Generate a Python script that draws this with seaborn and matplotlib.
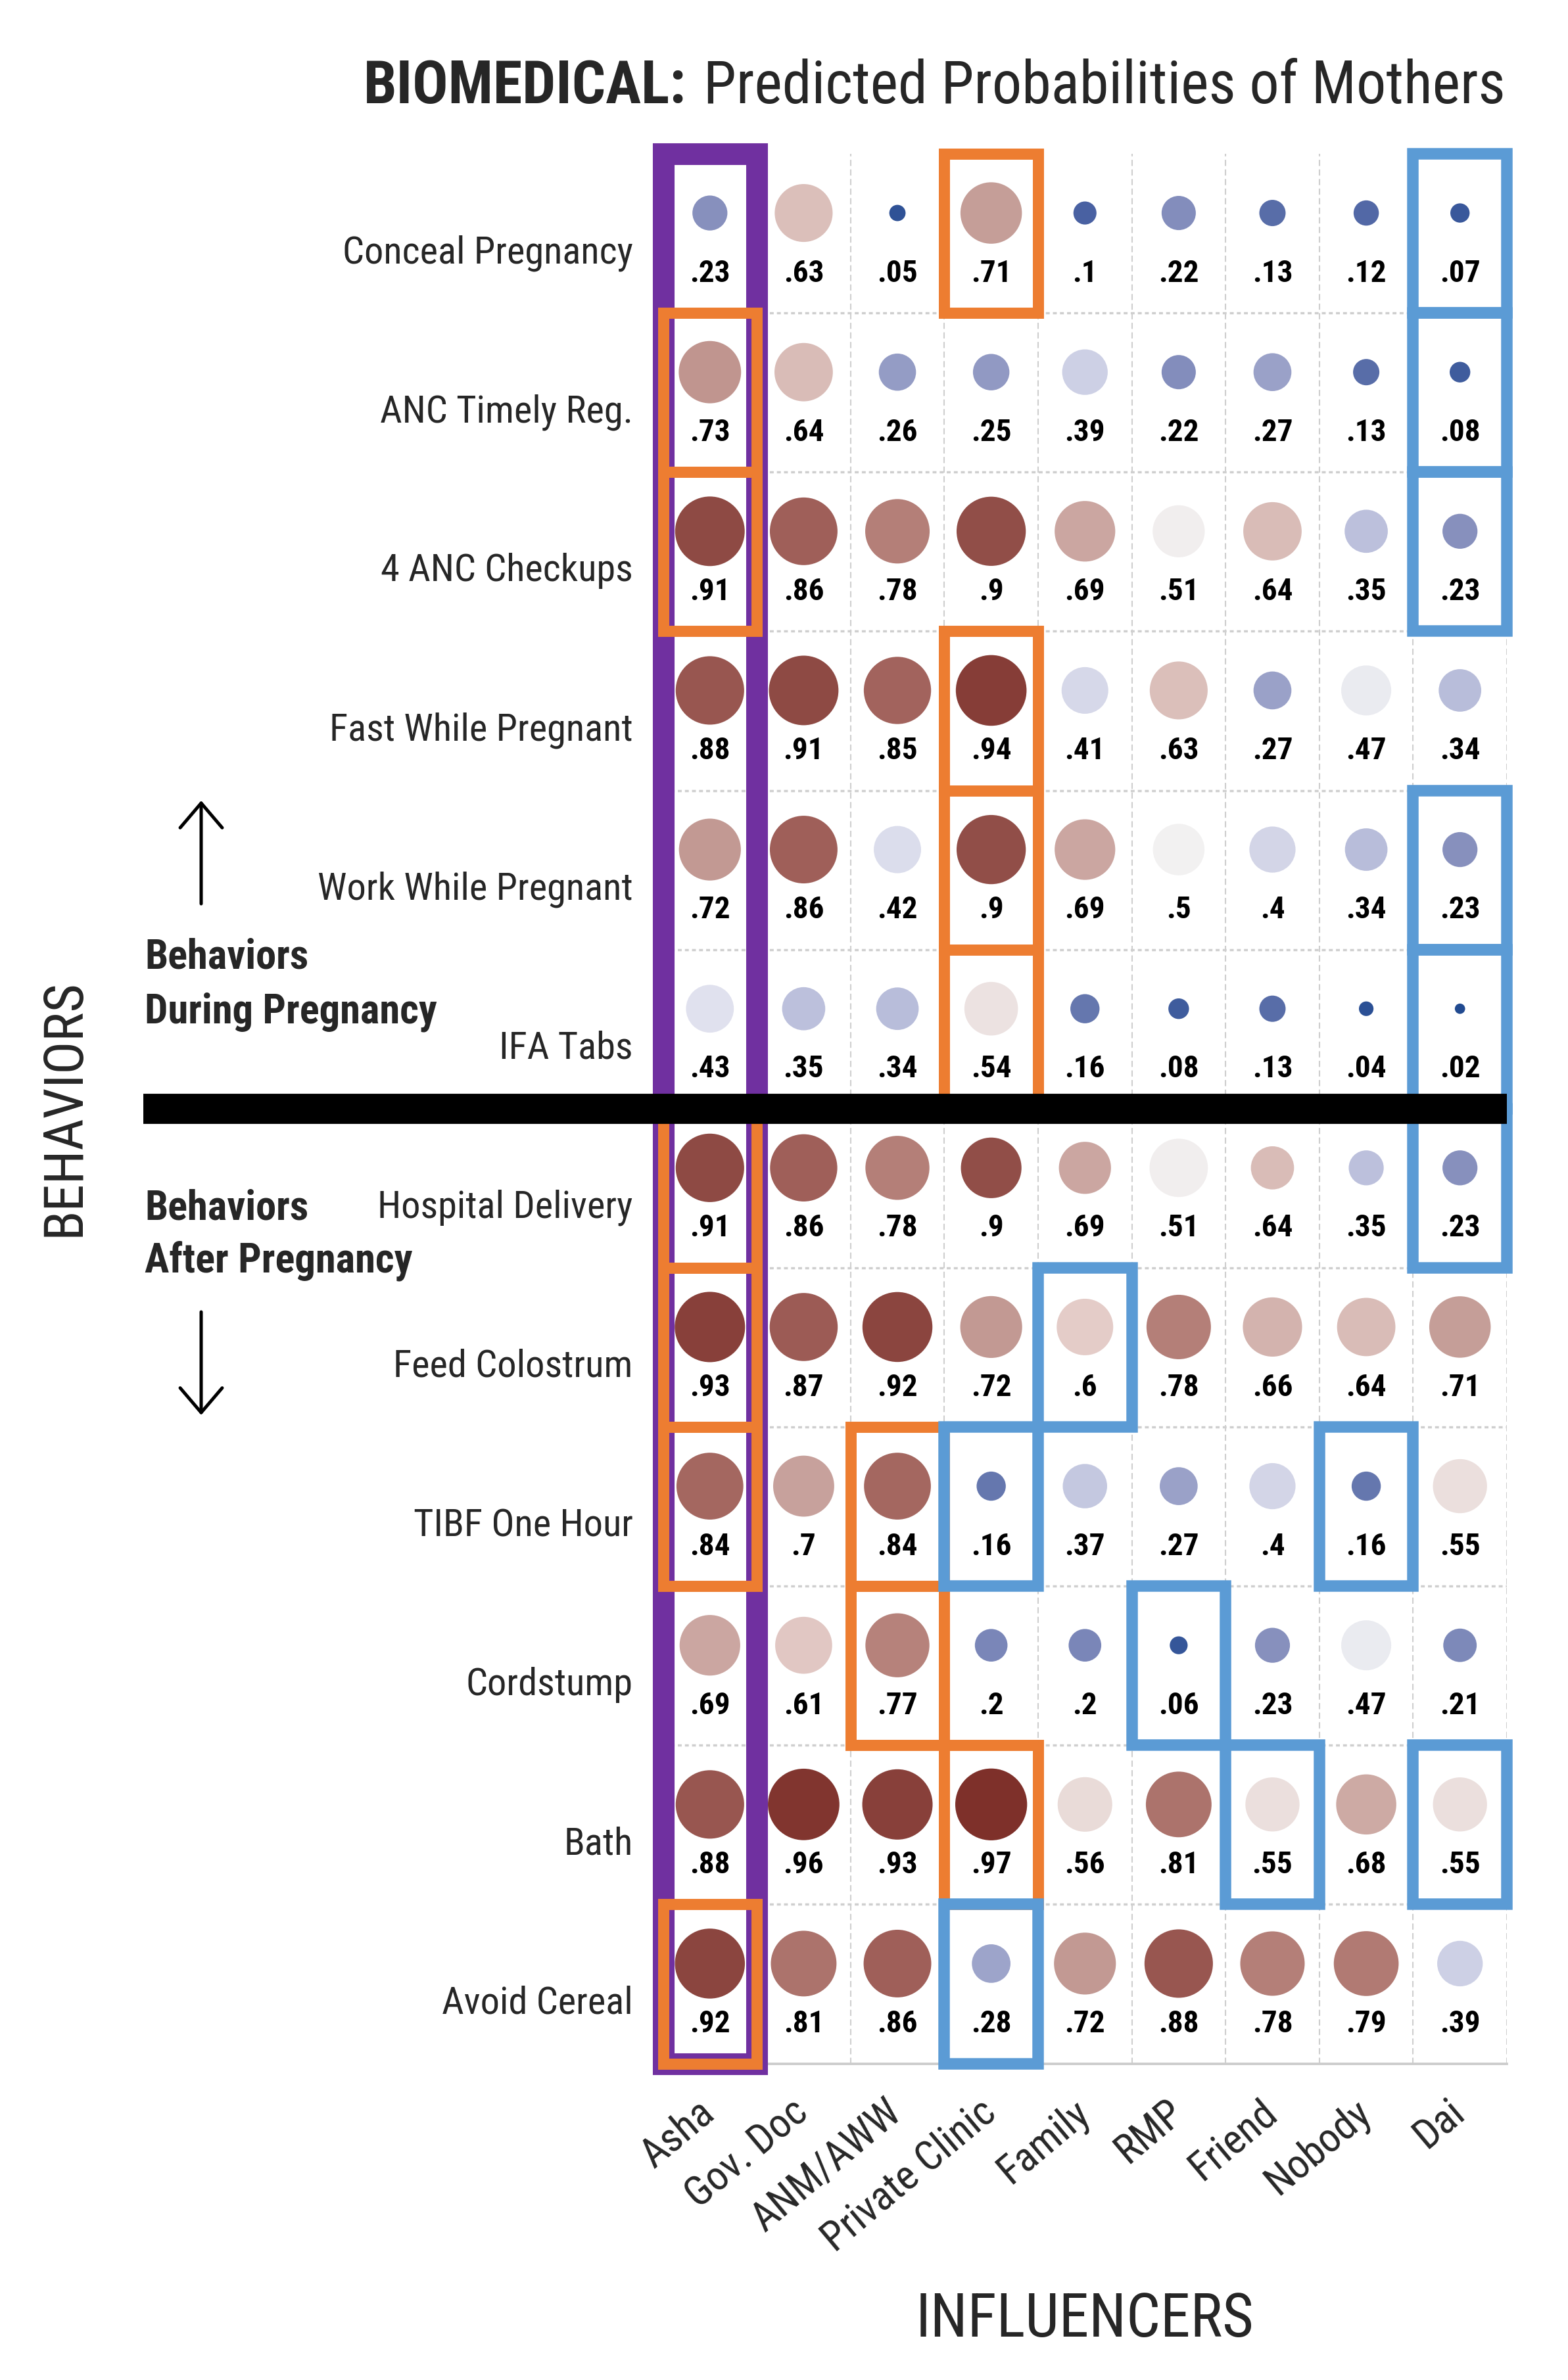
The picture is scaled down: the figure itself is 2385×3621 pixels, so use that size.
import numpy as np
import pandas as pd
import matplotlib
matplotlib.use("Agg")
import matplotlib.pyplot as plt
import seaborn as sns
from matplotlib import font_manager as fm, transforms
from matplotlib.patches import Rectangle, FancyArrowPatch, ArrowStyle
from matplotlib.colors import LinearSegmentedColormap

# ---------------- data ----------------
behaviors = ["Conceal Pregnancy", "ANC Timely Reg.", "4 ANC Checkups",
             "Fast While Pregnant", "Work While Pregnant", "IFA Tabs",
             "Hospital Delivery", "Feed Colostrum", "TIBF One Hour",
             "Cordstump", "Bath", "Avoid Cereal"]
influencers = ["Asha", "Gov. Doc", "ANM/AWW", "Private Clinic", "Family",
               "RMP", "Friend", "Nobody", "Dai"]

conceal_pregnancy   = [0.23, 0.63, 0.05, 0.71, 0.10, 0.22, 0.13, 0.12, 0.07]
anc_timely_reg      = [0.73, 0.64, 0.26, 0.25, 0.39, 0.22, 0.27, 0.13, 0.08]
anc_checkups        = [0.91, 0.86, 0.78, 0.90, 0.69, 0.51, 0.64, 0.35, 0.23]
fast_while_pregnant = [0.88, 0.91, 0.85, 0.94, 0.41, 0.63, 0.27, 0.47, 0.34]
work_while_pregnant = [0.72, 0.86, 0.42, 0.90, 0.69, 0.50, 0.40, 0.34, 0.23]
ifa_tabs            = [0.43, 0.35, 0.34, 0.54, 0.16, 0.08, 0.13, 0.04, 0.02]
hospital_delivery   = [0.91, 0.86, 0.78, 0.90, 0.69, 0.51, 0.64, 0.35, 0.23]
feed_colostrum      = [0.93, 0.87, 0.92, 0.72, 0.60, 0.78, 0.66, 0.64, 0.71]
tibf_one_hour       = [0.84, 0.70, 0.84, 0.16, 0.37, 0.27, 0.40, 0.16, 0.55]
cordstump           = [0.69, 0.61, 0.77, 0.20, 0.20, 0.06, 0.23, 0.47, 0.21]
bath                = [0.88, 0.96, 0.93, 0.97, 0.56, 0.81, 0.55, 0.68, 0.55]
avoid_cereal        = [0.92, 0.81, 0.86, 0.28, 0.72, 0.88, 0.78, 0.79, 0.39]

# dot sizes as drawn (Hospital Delivery dots are drawn with different sizes than their labels)
hospital_delivery_dot_size = [0.88, 0.85, 0.77, 0.69, 0.51, 0.64, 0.35, 0.23, 0.23]

values_rows = [conceal_pregnancy, anc_timely_reg, anc_checkups, fast_while_pregnant,
               work_while_pregnant, ifa_tabs, hospital_delivery, feed_colostrum,
               tibf_one_hour, cordstump, bath, avoid_cereal]
size_rows = list(values_rows)
size_rows[6] = hospital_delivery_dot_size

orange_cells = [("Conceal Pregnancy", "Private Clinic"), ("ANC Timely Reg.", "Asha"),
                ("4 ANC Checkups", "Asha"), ("Fast While Pregnant", "Private Clinic"),
                ("Work While Pregnant", "Private Clinic"), ("IFA Tabs", "Private Clinic"),
                ("Hospital Delivery", "Asha"), ("Feed Colostrum", "Asha"),
                ("TIBF One Hour", "Asha"), ("TIBF One Hour", "ANM/AWW"),
                ("Cordstump", "ANM/AWW"), ("Bath", "Private Clinic"), ("Avoid Cereal", "Asha")]
blue_cells = [("Conceal Pregnancy", "Dai"), ("ANC Timely Reg.", "Dai"), ("4 ANC Checkups", "Dai"),
              ("Work While Pregnant", "Dai"), ("IFA Tabs", "Dai"), ("Hospital Delivery", "Dai"),
              ("Feed Colostrum", "Family"), ("TIBF One Hour", "Private Clinic"),
              ("TIBF One Hour", "Nobody"), ("Cordstump", "RMP"), ("Bath", "Friend"),
              ("Bath", "Dai"), ("Avoid Cereal", "Private Clinic")]
purple_column = "Asha"

title_bold = "BIOMEDICAL:"
title_rest = "Predicted Probabilities of Mothers"

records = []
for b, vals, svals in zip(behaviors, values_rows, size_rows):
    for inf, v, sv in zip(influencers, vals, svals):
        records.append({"behavior": b, "influencer": inf, "value": v, "dot": sv})
df = pd.DataFrame(records)


def fmt(v):
    return f"{v:.2f}".rstrip("0").lstrip("0")


# ---------------- style ----------------
sns.set_theme(style="white")
names = {f.name for f in fm.fontManager.ttflist}
if "Liberation Sans Narrow" in names:
    FONT, STRETCH = "Liberation Sans Narrow", "normal"
elif "Roboto Condensed" in names:
    FONT, STRETCH = "Roboto Condensed", "normal"
else:
    FONT, STRETCH = "DejaVu Sans", "condensed"
plt.rcParams["font.family"] = [FONT, "DejaVu Sans"]
plt.rcParams["font.stretch"] = STRETCH

cmap = LinearSegmentedColormap.from_list("bio", [
    (0.00, "#17448c"), (0.10, "#4a62a2"), (0.23, "#8891be"), (0.35, "#bcc0dc"),
    (0.43, "#e0e1ee"), (0.50, "#f2f2f2"), (0.60, "#e4ccc8"), (0.71, "#c59e98"),
    (0.78, "#b47f78"), (0.86, "#a0605a"), (0.91, "#8e4a44"), (1.00, "#77241f")])

W, H, DPI = 2385, 3621, 100
fig = plt.figure(figsize=(W / DPI, H / DPI), dpi=DPI)
fig.patch.set_facecolor("white")

ax_left, ax_right, ax_top, ax_bot = 1008.5, 2292, 234, 3139.5
ax = fig.add_axes([ax_left / W, 1 - ax_bot / H, (ax_right - ax_left) / W, (ax_bot - ax_top) / H])
ax.set_facecolor("white")

sns.scatterplot(data=df, x="influencer", y="behavior", hue="value", size="dot",
                palette=cmap, hue_norm=(0, 1), sizes=(0, 6385), size_norm=(0, 1),
                linewidth=0, legend=False, ax=ax, zorder=3)
# dots sit in the upper part of each cell
dot_shift = transforms.ScaledTranslation(0, 0.31, fig.dpi_scale_trans)
coll = ax.collections[0]
coll.set_offset_transform(ax.transData + dot_shift)

ax.set_xlim(-0.5, len(influencers) - 0.5)
ax.set_ylim(len(behaviors) - 0.5, -0.5)

# value labels
for i, (b, vals) in enumerate(zip(behaviors, values_rows)):
    for j, v in enumerate(vals):
        ax.annotate(fmt(v), xy=(j, i), xytext=(0, -53), textcoords="offset points",
                    ha="center", va="baseline", fontsize=34, fontweight="bold",
                    color="black", zorder=4)

# grid
ax.set_xticks(np.arange(0.5, len(influencers)), minor=True)
ax.set_yticks(np.arange(0.5, len(behaviors) - 1), minor=True)
ax.grid(False)
ax.xaxis.grid(True, which="minor", color="#cfcfcf", linestyle=(0, (4.5, 2.5)), linewidth=1.5)
ax.yaxis.grid(True, which="minor", color="#cfcfcf", linestyle=(0, (1.7, 1.4)), linewidth=2.5)
ax.set_axisbelow(True)
for s in ["top", "left", "right"]:
    ax.spines[s].set_visible(False)
ax.spines["bottom"].set_color("#cccccc")
ax.spines["bottom"].set_linewidth(2.7)
ax.tick_params(which="both", length=0)
ax.tick_params(axis="y", pad=33, labelsize=42)
ax.tick_params(axis="x", pad=46, labelsize=45)
ax.set_xlabel("")
ax.set_ylabel("")

ylab_shift = transforms.ScaledTranslation(0, -0.45, fig.dpi_scale_trans)
for lab in ax.get_yticklabels():
    lab.set_verticalalignment("baseline")
    lab.set_transform(lab.get_transform() + ylab_shift)
xlab_shift = transforms.ScaledTranslation(-0.2, 0.2, fig.dpi_scale_trans)
for lab in ax.get_xticklabels():
    lab.set_rotation(40)
    lab.set_ha("right")
    lab.set_va("top")
    lab.set_rotation_mode("anchor")
    lab.set_transform(lab.get_transform() + xlab_shift)

# highlight boxes
ci = {b: i for i, b in enumerate(behaviors)}
cj = {c: j for j, c in enumerate(influencers)}
pj = cj[purple_column]
ax.add_patch(Rectangle((pj - 0.5, -0.5), 1, len(behaviors), fill=False,
                       edgecolor="#7030a0", linewidth=23.8, joinstyle="miter",
                       clip_on=False, zorder=5))
for b, c in orange_cells:
    ax.add_patch(Rectangle((cj[c] - 0.5, ci[b] - 0.5), 1, 1, fill=False,
                           edgecolor="#ed7d31", linewidth=12.2, joinstyle="miter",
                           clip_on=False, zorder=6))
for b, c in blue_cells:
    ax.add_patch(Rectangle((cj[c] - 0.5, ci[b] - 0.5), 1, 1, fill=False,
                           edgecolor="#5b9bd5", linewidth=12.6, joinstyle="miter",
                           clip_on=False, zorder=7))

# black divider between the two behaviour groups
split = ci["IFA Tabs"] + 0.5
bt = transforms.blended_transform_factory(fig.transFigure, ax.transData)
ax.plot([218 / W, ax_right / W], [split, split], transform=bt, color="black",
        linewidth=33, solid_capstyle="butt", clip_on=False, zorder=8)

# texts outside
fig.text(1650 / W, 1 - 3530 / H, "INFLUENCERS", ha="center", va="center", fontsize=66)
fig.text(98 / W, 1 - 1685 / H, "BEHAVIORS", ha="center", va="center", rotation=90, fontsize=60)
fig.text(220 / W, 1 - 1473 / H, "Behaviors", ha="left", va="baseline", fontsize=45, fontweight="bold")
fig.text(220 / W, 1 - 1556 / H, "During Pregnancy", ha="left", va="baseline", fontsize=45, fontweight="bold")
fig.text(220 / W, 1 - 1855 / H, "Behaviors", ha="left", va="baseline", fontsize=45, fontweight="bold")
fig.text(220 / W, 1 - 1936 / H, "After Pregnancy", ha="left", va="baseline", fontsize=45, fontweight="bold")

astyle = ArrowStyle("->", head_length=27, head_width=23)
for y0, y1 in [(1375, 1218), (1996, 2153)]:
    fig.add_artist(FancyArrowPatch((306 / W, 1 - y0 / H), (306 / W, 1 - y1 / H),
                                   transform=fig.transFigure, arrowstyle=astyle,
                                   mutation_scale=1, linewidth=3.6, color="black",
                                   shrinkA=0, shrinkB=0))

# title: regular part right-aligned, bold part placed to its left
t_rest = fig.text(2290 / W, 1 - 157 / H, title_rest, ha="right", va="baseline", fontsize=65)
fig.canvas.draw()
bb = t_rest.get_window_extent(renderer=fig.canvas.get_renderer())
fig.text((bb.x0 - 26) / W, 1 - 157 / H, title_bold, ha="right", va="baseline",
         fontsize=65, fontweight="bold")

fig.savefig("out.png", dpi=DPI, facecolor="white")
